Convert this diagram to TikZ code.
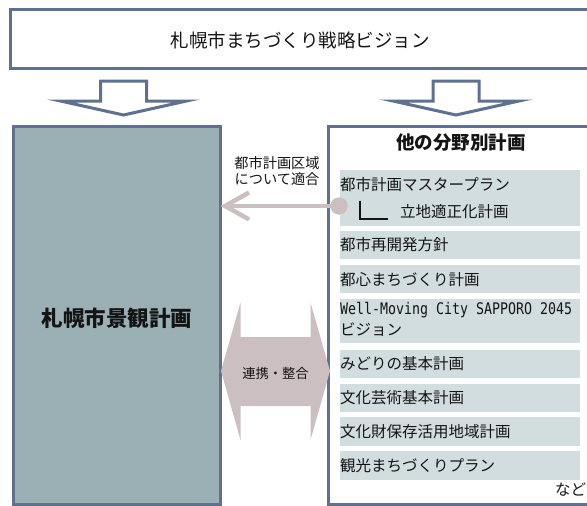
\documentclass[tikz,border=0pt]{standalone}
\usepackage{fontspec}
\setmainfont{Noto Sans CJK JP}
\newfontfamily\latinmono[FakeStretch=0.83]{DejaVu Sans Mono}
\usetikzlibrary{arrows.meta}
\definecolor{slate}{RGB}{96,112,145}
\definecolor{keikanfill}{RGB}{155,176,181}
\definecolor{rowfill}{RGB}{209,221,223}
\definecolor{linkpink}{RGB}{203,191,193}
\definecolor{ink}{RGB}{20,20,20}
\begin{document}
\begin{tikzpicture}[x=1pt,y=-1pt,
  frame/.style={draw=slate,line width=3pt,inner sep=0pt,outer sep=0pt,anchor=north west},
  downarrow/.style={draw=slate,line width=3pt,fill=white,line join=miter},
  rowbox/.style={fill=rowfill,inner sep=0pt,outer sep=0pt,minimum width=240pt,anchor=north west},
  rowtext/.style={inner sep=0pt,anchor=west,font=\fontsize{15.5}{18}\selectfont,text=ink},
  plain/.style={inner sep=0pt,text=ink},
  downarr/.pic={\draw[downarrow] (-23,0) -- (23,0) -- (23,20) -- (63,20) -- (0,34) -- (-63,20) -- (-23,20) -- cycle;}
]
\useasboundingbox (0,0) rectangle (587,506);
\clip (0,0) rectangle (587,506);
\fill[white] (0,0) rectangle (587,506);

% top box
\node[frame,fill=white,minimum width=590pt,minimum height=59.5pt] (vision) at (10.5,9) {};
\node[plain,font=\fontsize{18.5}{20}\selectfont] (visiontext) at (300,40) {札幌市まちづくり戦略ビジョン};

% down arrows
\pic at (123.5,81) {downarr};
\pic at (456,81) {downarr};

% left box
\node[frame,fill=keikanfill,minimum width=207.5pt,minimum height=378pt] (keikan) at (13,126) {};
\node[plain,font=\bfseries\fontsize{21.5}{24}\selectfont] (keikantext) at (117,318) {札幌市景観計画};

% right box
\node[frame,fill=white,minimum width=280pt,minimum height=378pt] (others) at (328.5,126) {};
\node[plain,font=\bfseries\fontsize{18.5}{20}\selectfont] (otherstitle) at (461,143) {他の分野別計画};

% rows
\node[rowbox,minimum height=56pt] (r1) at (340,170) {};
\node[rowbox,minimum height=28pt] (r2) at (340,231) {};
\node[rowbox,minimum height=28pt] (r3) at (340,265) {};
\node[rowbox,minimum height=44pt] (r4) at (340,299) {};
\node[rowbox,minimum height=28pt] (r5) at (340,350) {};
\node[rowbox,minimum height=28pt] (r6) at (340,384) {};
\node[rowbox,minimum height=29pt] (r7) at (340,417) {};
\node[rowbox,minimum height=29pt] (r8) at (340,451) {};

\node[rowtext] (t1a) at (340,185) {都市計画マスタープラン};
\node[rowtext] (t1b) at (400,212) {立地適正化計画};
\draw[ink,line width=1.4pt] (360,200.5) |- (388,219);
\node[rowtext] (t2) at (340,245) {都市再開発方針};
\node[rowtext] (t3) at (340,280) {都心まちづくり計画};
\node[rowtext,font=\latinmono\fontsize{16}{18}\selectfont] (t4a) at (340,310) {Well-Moving City SAPPORO 2045};
\node[rowtext] (t4b) at (340,330) {ビジョン};
\node[rowtext] (t5) at (340,364) {みどりの基本計画};
\node[rowtext] (t6) at (340,398) {文化芸術基本計画};
\node[rowtext] (t7) at (340,431.5) {文化財保存活用地域計画};
\node[rowtext] (t8) at (340,465.5) {観光まちづくりプラン};
\node[rowtext] (etc) at (555,490) {など};

% link from master plan to keikan
\node[circle,fill=linkpink,minimum size=17pt,inner sep=0pt] (dot) at (339,206) {};
\draw[linkpink,line width=4.5pt,-{Straight Barb[length=24pt,width=27pt]}] (dot.center) -- (keikan.east |- dot.center);
\node[circle,fill=linkpink,minimum size=17pt,inner sep=0pt] at (dot) {};
\node[plain,font=\fontsize{14.2}{16}\selectfont,align=center] (linklabel) at (277,171) {都市計画区域\\について適合};

% double arrow
\fill[linkpink] (221,371) -- (240.5,302.5) -- (240.5,337) -- (310.5,337) -- (310.5,302.5) -- (330,371) -- (310.5,440) -- (310.5,406) -- (240.5,406) -- (240.5,440) -- cycle;
\node[plain,font=\fontsize{13.3}{15}\selectfont] (renkei) at (275.5,373.5) {連携・整合};
\end{tikzpicture}
\end{document}
